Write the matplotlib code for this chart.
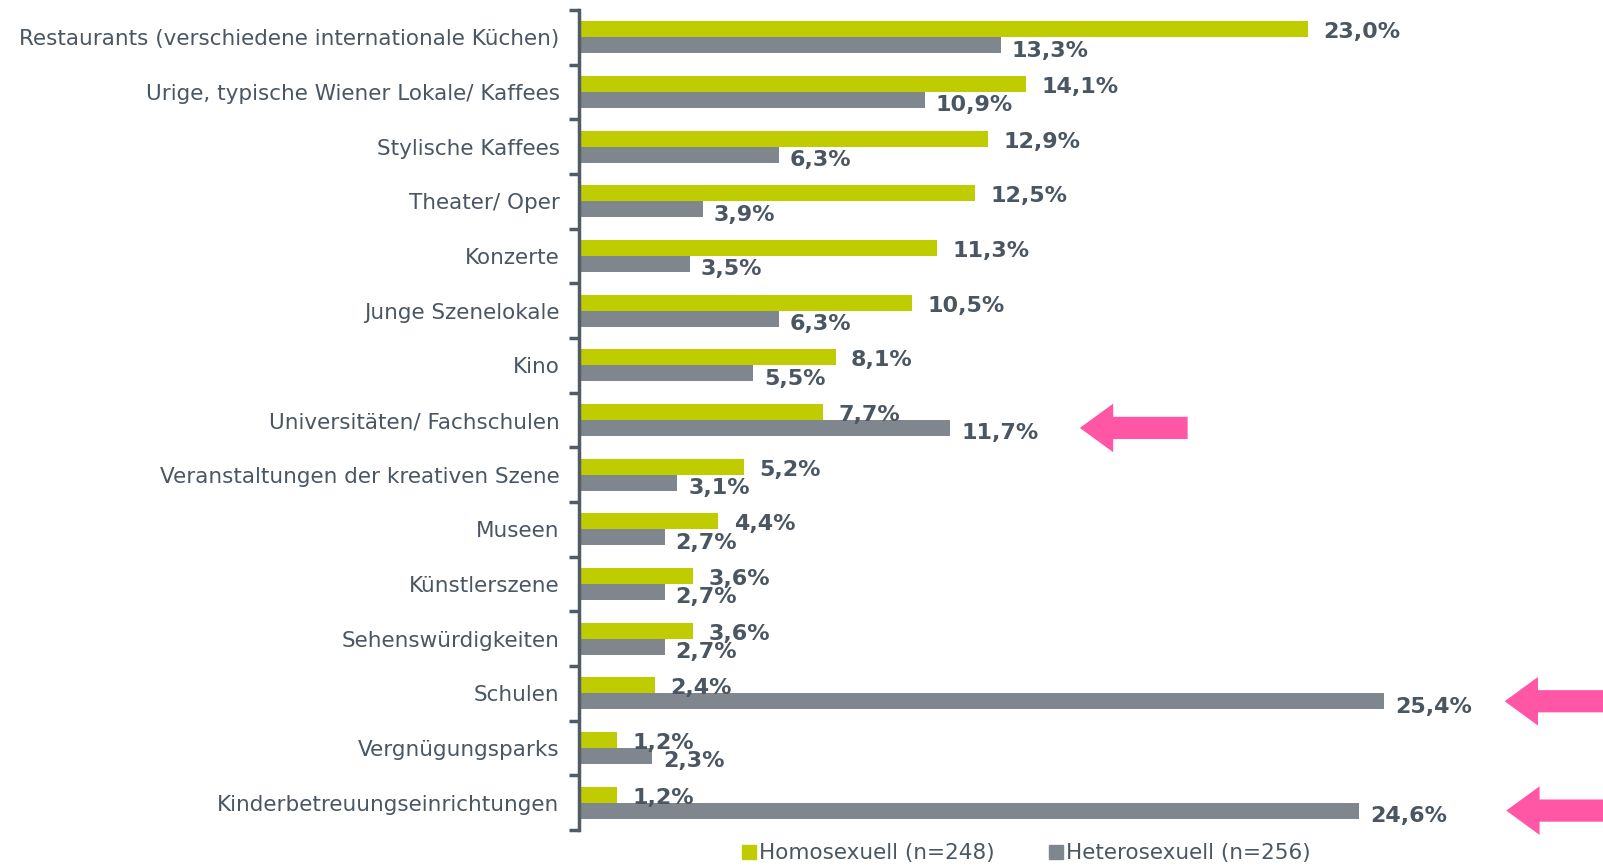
import matplotlib
matplotlib.use('Agg')
import numpy as np
import matplotlib.pyplot as plt
from matplotlib.lines import Line2D

categories = [
    'Restaurants (verschiedene internationale Küchen)',
    'Urige, typische Wiener Lokale/ Kaffees',
    'Stylische Kaffees',
    'Theater/ Oper',
    'Konzerte',
    'Junge Szenelokale',
    'Kino',
    'Universitäten/ Fachschulen',
    'Veranstaltungen der kreativen Szene',
    'Museen',
    'Künstlerszene',
    'Sehenswürdigkeiten',
    'Schulen',
    'Vergnügungsparks',
    'Kinderbetreuungseinrichtungen',
]
homo = [23.0, 14.1, 12.9, 12.5, 11.3, 10.5, 8.1, 7.7, 5.2, 4.4, 3.6, 3.6, 2.4, 1.2, 1.2]
hetero = [13.3, 10.9, 6.3, 3.9, 3.5, 6.3, 5.5, 11.7, 3.1, 2.7, 2.7, 2.7, 25.4, 2.3, 24.6]
legend_labels = ['Homosexuell (n=248)', 'Heterosexuell (n=256)']
# highlighted rows: (category index, arrow tip, arrow tail) in % units
arrows = [(7, 15.8, 19.2), (12, 29.2, 33.0), (14, 29.25, 33.0)]

GREEN = '#bfcd00'
GRAY = '#80868e'
TEXT = '#4b5663'
PINK = '#ff56a6'

fig = plt.figure(figsize=(16.03, 8.67), dpi=100)
ax = fig.add_axes([579 / 1603, 1 - 830 / 867, 1 - 579 / 1603, 820 / 867])

y = np.arange(len(categories))
h = 0.29
ax.barh(y - h / 2, homo, height=h, color=GREEN, edgecolor='none')
ax.barh(y + h / 2, hetero, height=h, color=GRAY, edgecolor='none')

for i in range(len(categories)):
    ax.annotate(f'{homo[i]:.1f}%'.replace('.', ','), (homo[i], y[i] - h / 2),
                xytext=(11, -2), textcoords='offset points', va='center',
                ha='left', fontsize=16, fontweight='bold', color=TEXT)
    ax.annotate(f'{hetero[i]:.1f}%'.replace('.', ','), (hetero[i], y[i] + h / 2),
                xytext=(8, -4), textcoords='offset points', va='center',
                ha='left', fontsize=16, fontweight='bold', color=TEXT)

for idx, tip, tail in arrows:
    ax.annotate('', xy=(tip, y[idx] + h / 2), xytext=(tail, y[idx] + h / 2),
                annotation_clip=False,
                arrowprops=dict(arrowstyle='simple,head_length=24,head_width=35,tail_width=16',
                                mutation_scale=1, color=PINK, lw=0,
                                shrinkA=0, shrinkB=0))

ax.set_xlim(0, (1603 - 579) / 31.7)
ax.set_ylim(len(categories) - 0.5, -0.5)

for s in ['top', 'right', 'bottom']:
    ax.spines[s].set_visible(False)
ax.spines['left'].set_color('#515c67')
ax.spines['left'].set_linewidth(2.5)
ax.set_xticks([])

ax.set_yticks(y)
ax.set_yticklabels(categories, fontsize=15.5, color=TEXT)
ax.tick_params(axis='y', which='major', length=0, pad=14)
ax.set_yticks(np.arange(-0.5, len(categories)), minor=True)
ax.tick_params(axis='y', which='minor', length=7, width=2.5, color='#515c67')

handles = [Line2D([], [], marker='s', ls='none', color=GREEN, markersize=10),
           Line2D([], [], marker='s', ls='none', color=GRAY, markersize=10)]
leg = fig.legend(handles, legend_labels, loc='center', bbox_to_anchor=(0.64, 0.016),
                 ncol=2, frameon=False, fontsize=15.5, handletextpad=0.1,
                 columnspacing=2.5, handlelength=0.7)
for t in leg.get_texts():
    t.set_color(TEXT)

fig.savefig('out.png', dpi=100)
